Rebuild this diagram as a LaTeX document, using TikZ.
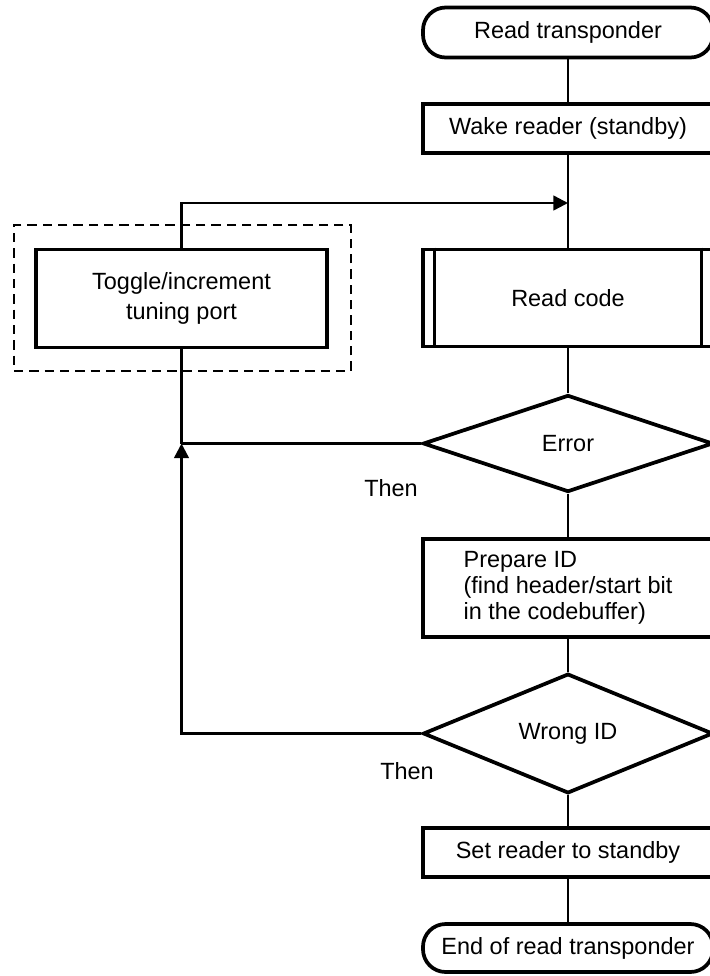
\documentclass[tikz,border=0pt]{standalone}
\usepackage{fontspec}
\setmainfont{Liberation Sans}
\usetikzlibrary{shapes.geometric,arrows.meta}
\begin{document}
\begin{tikzpicture}[x=0.75pt,y=-0.75pt,
  txt/.style={font=\fontsize{17.6}{19.5}\selectfont},
  box/.style={txt, draw, line width=2.8pt, rectangle, inner sep=0pt, minimum width=217.5pt},
  term/.style={box, rounded corners=17pt},
  dec/.style={txt, draw, line width=2.8pt, diamond, inner sep=0pt, minimum width=217.5pt, minimum height=72.75pt},
  conn/.style={line width=1.9pt},
  arr/.style={conn, -{Triangle[length=11pt,width=11pt]}},
  dashbox/.style={draw, line width=1.3pt, dash pattern=on 7pt off 4.5pt}
]
\useasboundingbox (0,0) rectangle (710,976);
\clip (0,0) rectangle (710,976);

\node[term, minimum height=37.5pt] (start) at (568,32.5) {Read transponder};
\node[box, minimum height=36.75pt] (wake) at (568,128.5) {Wake reader (standby)};
\node[box, minimum height=72.75pt] (read) at (568,298) {Read code};
\draw[line width=2.2pt] ([xshift=10pt]read.north west) -- ([xshift=10pt]read.south west);
\draw[line width=2.2pt] ([xshift=-10pt]read.north east) -- ([xshift=-10pt]read.south east);
\node[box, minimum width=218.25pt, minimum height=73.5pt, align=center, font=\fontsize{17.6}{22}\selectfont] (toggle) at (181.5,298.5) {Toggle/increment\\tuning port};
\node[dashbox, minimum width=252.75pt, minimum height=109.5pt, inner sep=0pt] (grp) at (182.5,298) {};
\node[dec] (error) at (568,443.5) {Error};
\node[box, minimum height=73.5pt, align=left] (prep) at (568,588) {Prepare ID\\(find header/start bit\\in the codebuffer)};
\node[dec] (wrong) at (568,733.5) {Wrong ID};
\node[box, minimum height=36.75pt] (setr) at (568,852.5) {Set reader to standby};
\node[term, minimum height=36pt] (end) at (568,948) {End of read transponder};

\node[txt] (then1) at (391,488) {Then};
\node[txt] (then2) at (407,771) {Then};

\coordinate (j1) at (568,203);
\coordinate (j2) at (181.5,443.5);

\draw[conn] (start.south) -- (wake.north);
\draw[conn] (wake.south) -- (read.north);
\draw[arr] (toggle.north) |- (j1);
\draw[conn] (read.south) -- (error.north);
\draw[conn] (error.west) -- (j2);
\draw[conn] (toggle.south) -- (j2);
\draw[arr] (wrong.west) -| (j2);
\draw[conn] (error.south) -- (prep.north);
\draw[conn] (prep.south) -- (wrong.north);
\draw[conn] (wrong.south) -- (setr.north);
\draw[conn] (setr.south) -- (end.north);
\end{tikzpicture}
\end{document}
